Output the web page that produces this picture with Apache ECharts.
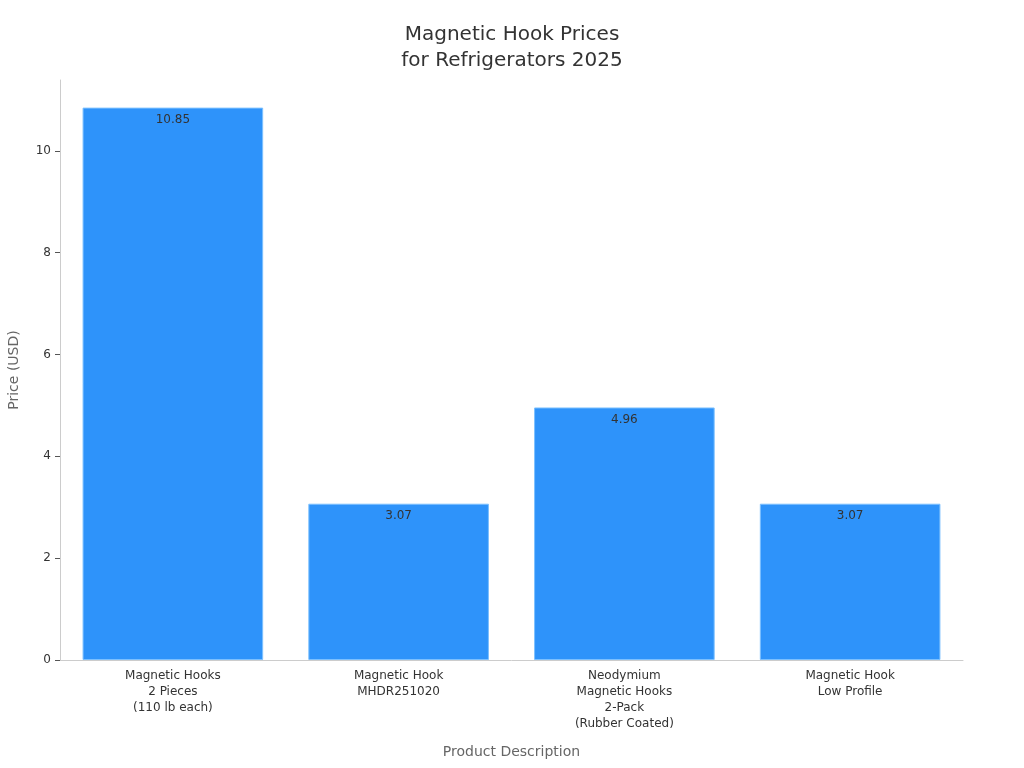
<!DOCTYPE html>
<html>
<head>
<meta charset="utf-8">
<script src="https://cdn.jsdelivr.net/npm/echarts@6/dist/echarts.min.js"></script>
<style>html,body{margin:0;padding:0;background:#fff}#c{width:1024px;height:768px}</style>
</head>
<body>
<div id="c"></div>
<script>
const categories = [
  "Magnetic Hooks\n2 Pieces\n(110 lb each)",
  "Magnetic Hook\nMHDR251020",
  "Neodymium\nMagnetic Hooks\n2-Pack\n(Rubber Coated)",
  "Magnetic Hook\nLow Profile"
];
const prices = [10.85, 3.07, 4.96, 3.07];
const yTicks = [0, 2, 4, 6, 8, 10];

const chart = echarts.init(document.getElementById('c'), null, {renderer: 'canvas'});
const font = 'DejaVu Sans';
chart.setOption({
  animation: false,
  textStyle: {fontFamily: font},
  title: {
    text: 'Magnetic Hook Prices\nfor Refrigerators 2025',
    left: 'center',
    top: 17,
    textStyle: {fontFamily: font, fontSize: 20, fontWeight: 'normal', color: '#333', lineHeight: 26}
  },
  grid: {left: 60, right: 61, top: 80, bottom: 108, containLabel: false, outerBoundsMode: 'none'},
  xAxis: {
    type: 'category',
    data: categories,
    name: 'Product Description',
    nameLocation: 'middle',
    nameGap: 85,
    nameTextStyle: {fontFamily: font, fontSize: 14, color: '#666'},
    axisLine: {lineStyle: {color: '#ccc'}},
    axisTick: {alignWithLabel: true, length: 5, lineStyle: {color: '#555'}},
    axisLabel: {fontFamily: font, fontSize: 12, color: '#333', lineHeight: 16, margin: 8, interval: 0}
  },
  yAxis: {
    type: 'value',
    min: 0,
    max: prices[0] * 1.05,
    interval: 2,
    name: 'Price (USD)',
    nameLocation: 'middle',
    nameGap: 39,
    nameTextStyle: {fontFamily: font, fontSize: 14, color: '#666'},
    splitLine: {show: false},
    axisLine: {show: true, lineStyle: {color: '#ccc'}},
    axisTick: {show: true, length: 5, customValues: yTicks, lineStyle: {color: '#555'}},
    axisLabel: {fontFamily: font, fontSize: 12, color: '#333', margin: 9, customValues: yTicks}
  },
  series: [{
    type: 'bar',
    data: prices,
    barWidth: '80%',
    itemStyle: {color: '#2E93FA', borderColor: '#7CC0FF', borderWidth: 1},
    label: {
      show: true,
      position: 'insideTop',
      distance: 6,
      fontFamily: font,
      fontSize: 12,
      color: '#333'
    }
  }]
});
</script>
</body>
</html>
